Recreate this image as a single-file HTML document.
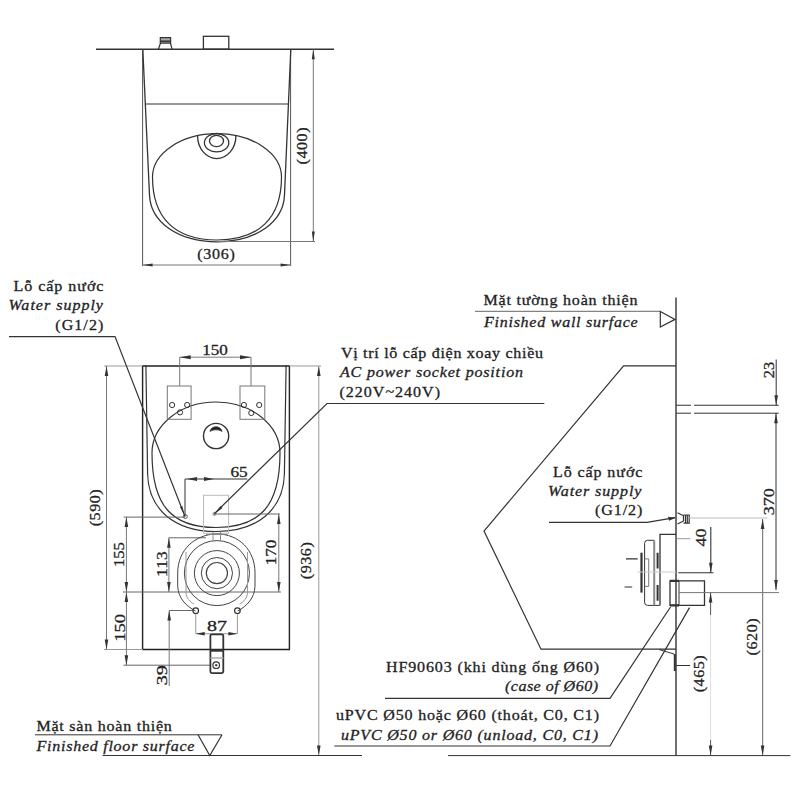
<!DOCTYPE html>
<html><head><meta charset="utf-8">
<style>
html,body{margin:0;padding:0;background:#fff;}
svg{display:block;}
text{font-family:"Liberation Serif",serif;fill:#222;stroke:#222;stroke-width:0.3;}
.it{font-style:italic;}
</style></head>
<body>
<svg width="800" height="800" viewBox="0 0 800 800">
<rect width="800" height="800" fill="#fff"/>
<g fill="none" stroke="#333" stroke-width="1" stroke-linecap="butt">
<!-- ===== TOP VIEW ===== -->
<path d="M96 49.3 H334" stroke-width="1.5"/>
<path d="M142.6 49.3 V266 M290.6 49.3 V266" stroke="#555"/>
<path d="M142.8 49.3 L149.5 195 C150.5 222 178 241.8 217 241.8 C256 241.8 283.5 222 284.5 195 L290.8 49.3" stroke-width="1.3"/>
<path d="M145 104 H288"/>
<path d="M152.5 177 A64.5 43.3 0 0 1 281.5 177 C281.5 218 259 240 217 240 C175 240 152.5 218 152.5 177 Z" stroke-width="1.2"/>
<path d="M197.6 136 A19.1 22.5 0 0 0 235.9 136" stroke-width="1.3"/>
<ellipse cx="216.6" cy="142.7" rx="12.2" ry="9.2" stroke-width="1.3"/>
<ellipse cx="216.5" cy="141" rx="7" ry="5.6" stroke-width="1.3"/>
<path d="M217 241.5 H315 M313.3 49.3 V241.5 M142.6 265 H290.6" stroke="#777"/>
<rect x="203.4" y="36.3" width="25.4" height="12.9" stroke-width="1.3"/>
<path d="M158.4 49.2 L160.5 43 H170.5 L172 49.2" stroke-width="1.2"/><path d="M160.3 43 V37.6 H170.6 V43 Z" fill="#aaa" stroke-width="1.2"/><path d="M160.3 41.2 H170.6" stroke-width="1.5"/>

<!-- ===== FRONT VIEW ===== -->
<path d="M142.6 366 V649.5 H289.4 V366 Z" stroke-width="1.4" stroke="#222"/>
<path d="M104 366 H142.7 M289.3 366 H321 M104 649.5 H142.8" stroke="#999"/>
<path d="M145.9 365 L147.6 473.8 C148.5 510 175 531.5 216 531.5 C257 531.5 283.5 510 284.4 473.8 L286.1 365" stroke-width="1.2"/>
<path d="M152 453 A64 51 0 0 1 280 453 C280 505 260.8 527.5 216 527.5 C171.2 527.5 152 505 152 453 Z" stroke-width="1.2"/>
<rect x="167.3" y="386" width="23.8" height="33.3" stroke="#777"/>
<rect x="240" y="386" width="24.8" height="33.3" stroke="#777"/>
<circle cx="172.1" cy="405" r="2.6"/><circle cx="187.2" cy="405" r="2.6"/><circle cx="180" cy="412.4" r="2.6"/>
<circle cx="243.9" cy="405" r="2.6"/><circle cx="259.2" cy="405" r="2.6"/><circle cx="251.3" cy="413" r="2.6"/>
<circle cx="216.1" cy="436" r="12.6" stroke-width="1.4"/>
<path d="M210 431.5 C211 425.2 221 425.2 222 431.5 C219 429.2 213 429.2 210 431.5 Z" fill="#222" stroke-width="0.8"/>
<!-- 150 dim -->
<path d="M179.7 357.2 H251 M179.7 357.2 V386 M251 357.2 V386" stroke="#777"/>
<!-- 65 dim -->
<path d="M185 479 H247.3 M185 479 V516.4"/>
<rect x="203.5" y="495.3" width="25.1" height="38" stroke="#bbb"/>
<circle cx="214.4" cy="514" r="2.2" stroke="none" fill="#bbb"/>
<circle cx="185.3" cy="516.5" r="2" stroke="#555"/>
<!-- ext lines -->
<path d="M123.7 517.1 H185 M214 514 H280 M123 592 H281 M168.8 537.8 H206 M169.2 610.5 H193 M123.5 665.2 H210" stroke="#666"/>
<!-- vertical dims -->
<path d="M106.5 366 V649.5 M126.4 517.1 V665.2 M168.9 537.8 V592 M278.8 514 V592 M169.2 610.5 V686" stroke="#777"/><path d="M318.8 366 V755.5" stroke="#999"/>
<!-- drain -->
<g stroke="#444" stroke-width="1">
<circle cx="216.9" cy="573.1" r="10.6" stroke-width="1.2"/>
<circle cx="216.9" cy="573.1" r="15.6"/>
<circle cx="216.9" cy="573.1" r="22.5"/>
<circle cx="216.9" cy="573.1" r="32.5"/>
<path d="M195.5 611 C186 606 178 598 177.7 586 L177.7 573 C177.7 550 195 534 216.9 534 C239 534 255 550 255 573 L255 586 C254.7 598 247 606 237.7 611"/>
<path d="M186 552 V592 C186 598 190 602 194 604 M247.5 552 V592 C247.5 598 243.5 602 239.5 604" stroke="#999"/>
<path d="M206 534.4 H227.5 M213 531.5 V540 M220.5 531.5 V540" stroke="#888"/>
</g>
<circle cx="195.75" cy="610.7" r="2.8" stroke-width="1.2"/><circle cx="237.4" cy="610.7" r="2.8" stroke-width="1.2"/>
<!-- 87 dim -->
<path d="M195.75 614 V633.75 M237.4 614 V633.75 M195.75 633.75 H237.4" stroke="#999"/>
<!-- pipe -->
<rect x="210.4" y="634.3" width="12.9" height="38.8" rx="1.5" stroke-width="1.8"/>
<path d="M210.4 650.6 H223.3" stroke-width="2.2"/><path d="M210.4 658 H223.3" stroke="#aaa" stroke-width="1.5"/>
<circle cx="216.2" cy="665.2" r="3.3" stroke-width="1.2"/><circle cx="216.2" cy="665.2" r="0.8" fill="#333"/>

<!-- leaders -->
<path d="M9 336.6 H115 L185 516.6" stroke-width="1.2"/>
<path d="M544.3 403.5 H327 L214 514" stroke-width="1.2"/>

<!-- floor -->
<path d="M35 734.8 H222 M102.5 755.5 H362"/>
<path d="M198 734.8 L209.8 755.5 L222 734.8" stroke-width="1.2"/>

<!-- ===== SIDE VIEW ===== -->
<path d="M676 297.6 V755.5" stroke-width="1.4"/>
<path d="M475 311.3 H660" stroke="#666"/>
<path d="M660.3 311.4 V327 L675 319.4 Z" stroke-width="1.2"/>
<path d="M676 365.9 H623.6 L484 531 L541 649.2 H676" stroke-width="1.2"/>
<path d="M676 405.25 H691 M694 405.25 H778.75 M676 413.2 H691 M694 413.2 H778.75 M776.2 359.5 V405.25 M776 413.2 V590"/>
<path d="M549 522.3 H647 L675 517.7" stroke-width="1.2"/>
<path d="M677.5 512.8 L683.5 515.8 V521 L677.5 524 M683.5 515 H689.2 V523.2 H683.5 M685.5 515 V523 M687.3 515 V523" stroke-width="1.2"/>
<path d="M689.2 518 H767.5" stroke="#bbb"/>
<path d="M762.7 519 V755.5" stroke="#666"/>
<path d="M660 605.4 V534.4 H676" stroke-width="1.3"/>
<path d="M654.2 540.3 H647.6 Q644.6 540.3 644.6 543.3 V602.4 Q644.6 605.4 647.6 605.4 H659.7"/>
<path d="M654.2 540.3 V605.4" stroke="#888" stroke-width="2"/>
<path d="M657.6 552.7 V568.5 M657.6 585 V600.8" stroke-width="2"/>
<path d="M641.5 552.7 V592.6" stroke-width="2.2"/>
<path d="M644.6 558.9 H648.7 V586.4 H644.6" stroke="#777"/>
<path d="M626 558.9 H637.7 M624.6 587 H632.2" stroke-width="1.2"/>
<path d="M637.7 572 H676" stroke="#ccc"/>
<path d="M676.8 538.7 H690.3" stroke="#999"/>
<path d="M678.3 572.75 H713.5 M710.8 527 V572.75" stroke-width="1.1"/>
<path d="M670 605.4 V580.9 H704.5 V605.4 Z" stroke-width="1.3"/>
<path d="M670 580.9 H679 M670 605.4 H679" stroke-width="2.4"/>
<path d="M679 580.9 V605.4"/>
<path d="M679 592.6 H779" stroke="#777"/>
<path d="M710.6 592.6 V615" stroke="#555"/><path d="M710.6 615 V740" stroke="#ddd"/><path d="M710.6 740 V755.5" stroke="#555"/><path d="M676 665.5 H690 M659 649.5 L674 654" stroke="#333"/><path d="M674.8 654 V671" stroke-width="2"/>
<path d="M670.5 607 L610 698.4 H385 M689.5 607.6 L610 746 H334.4" stroke-width="1.2"/>
<path d="M448 755.6 H790.4"/>
</g>

<!-- arrows -->
<g fill="#333" stroke="none">
<path d="M142.6 265 l10 -1.5 v3 Z M290.6 265 l-10 -1.5 v3 Z"/>
<path d="M313.3 49.3 l-1.5 10 h3 Z M313.3 241.5 l-1.5 -10 h3 Z"/>
<path d="M179.7 357.2 l11 -2 v4 Z M251 357.2 l-11 -2 v4 Z"/>
<path d="M187 479 l10 -2 v4 Z M214 479 l-10 -2 v4 Z"/>
<path d="M106.5 366 l-1.8 10 h3.6 Z M106.5 649.5 l-1.8 -10 h3.6 Z"/>
<path d="M318.8 366 l-1.8 10 h3.6 Z M318.8 755.5 l-1.8 -10 h3.6 Z"/>
<path d="M126.4 517.1 l-1.8 10 h3.6 Z M126.4 592 l-1.8 -10 h3.6 Z M126.4 592 l-1.8 10 h3.6 Z M126.4 665.2 l-1.8 -10 h3.6 Z"/>
<path d="M168.9 537.8 l-1.8 10 h3.6 Z M168.9 592 l-1.8 -10 h3.6 Z M169.2 610.5 l-1.8 10 h3.6 Z"/>
<path d="M278.8 514 l-1.8 10 h3.6 Z M278.8 592 l-1.8 -10 h3.6 Z"/>
<path d="M195.75 633.75 l9 -1.8 v3.6 Z M237.4 633.75 l-9 -1.8 v3.6 Z"/>
<path d="M776.2 405.25 l-1.8 -10 h3.6 Z M776 413.2 l-1.8 10 h3.6 Z M776 590 l-1.8 -10 h3.6 Z"/>
<path d="M762.6 519 l-1.8 10 h3.6 Z M762.6 755.5 l-1.8 -10 h3.6 Z"/>
<path d="M710.8 572.75 l-1.8 -10 h3.6 Z M710.6 592.6 l-1.8 10 h3.6 Z M710.6 755.5 l-1.8 -10 h3.6 Z M676 517.7 l-8 -1 l1 4 Z"/>
<path d="M214.4 514 L222.5 508 L220.5 506 Z M184.4 514.75 L182.3 505.9 L179.9 506.9 Z"/>
</g>

<!-- ===== TEXT ===== -->
<g font-size="15">
<text transform="translate(216 259) scale(1.07 1)" text-anchor="middle" textLength="35.05" lengthAdjust="spacing">(306)</text>
<text transform="translate(306.5 146) rotate(-90) scale(1.07 1)" text-anchor="middle" textLength="34.58" lengthAdjust="spacing">(400)</text>

<text transform="translate(13.5 291.4) scale(1.07 1)" textLength="84.11" lengthAdjust="spacing">Lỗ cấp nước</text>
<text transform="translate(8.5 310.4) scale(1.07 1)" class="it" textLength="88.32" lengthAdjust="spacing">Water supply</text>
<text transform="translate(55.3 330.1) scale(1.07 1)" textLength="44.86" lengthAdjust="spacing">(G1/2)</text>

<text transform="translate(215.1 354.7) scale(1.07 1)" text-anchor="middle" textLength="23.93" lengthAdjust="spacingAndGlyphs">150</text>
<text transform="translate(230.4 476.5) scale(1.07 1)" textLength="16.17" lengthAdjust="spacingAndGlyphs">65</text>
<text transform="translate(217 630.5) scale(1.07 1)" text-anchor="middle" textLength="18.69" lengthAdjust="spacingAndGlyphs">87</text>
<text transform="translate(124 554.6) rotate(-90) scale(1.07 1)" text-anchor="middle" textLength="23.36" lengthAdjust="spacingAndGlyphs">155</text>
<text transform="translate(124.5 627.9) rotate(-90) scale(1.07 1)" text-anchor="middle" textLength="26.07" lengthAdjust="spacingAndGlyphs">150</text>
<text transform="translate(167 564.1) rotate(-90) scale(1.07 1)" text-anchor="middle" textLength="24.02" lengthAdjust="spacingAndGlyphs">113</text>
<text transform="translate(276 552.5) rotate(-90) scale(1.07 1)" text-anchor="middle" textLength="24.02" lengthAdjust="spacingAndGlyphs">170</text>
<text transform="translate(166.5 675.3) rotate(-90) scale(1.07 1)" text-anchor="middle" textLength="18.69" lengthAdjust="spacingAndGlyphs">39</text>
<text transform="translate(100 507.8) rotate(-90) scale(1.07 1)" text-anchor="middle" textLength="34.58" lengthAdjust="spacing">(590)</text>
<text transform="translate(311 560.7) rotate(-90) scale(1.07 1)" text-anchor="middle" textLength="34.58" lengthAdjust="spacing">(936)</text>

<text transform="translate(341 358) scale(1.07 1)" textLength="188.79" lengthAdjust="spacing">Vị trí lỗ cấp điện xoay chiều</text>
<text transform="translate(340 377.3) scale(1.07 1)" class="it" textLength="171.03" lengthAdjust="spacing">AC power socket position</text>
<text transform="translate(339.5 397) scale(1.07 1)" textLength="93.93" lengthAdjust="spacing">(220V~240V)</text>

<text transform="translate(483.5 305.3) scale(1.07 1)" textLength="143.93" lengthAdjust="spacing">Mặt tường hoàn thiện</text>
<text transform="translate(484 326.6) scale(1.07 1)" class="it" textLength="143.55" lengthAdjust="spacing">Finished wall surface</text>

<text transform="translate(773.5 370) rotate(-90) scale(1.07 1)" text-anchor="middle" textLength="15.42" lengthAdjust="spacingAndGlyphs">23</text>
<text transform="translate(774 501.7) rotate(-90) scale(1.07 1)" text-anchor="middle" textLength="25.14" lengthAdjust="spacingAndGlyphs">370</text>
<text transform="translate(706 537.5) rotate(-90) scale(1.07 1)" text-anchor="middle" textLength="16.82" lengthAdjust="spacingAndGlyphs">40</text>
<text transform="translate(756.5 636.9) rotate(-90) scale(1.07 1)" text-anchor="middle" textLength="34.58" lengthAdjust="spacing">(620)</text>
<text transform="translate(704 673.8) rotate(-90) scale(1.07 1)" text-anchor="middle" textLength="34.58" lengthAdjust="spacing">(465)</text>

<text transform="translate(553 476.75) scale(1.07 1)" textLength="83.55" lengthAdjust="spacing">Lỗ cấp nước</text>
<text transform="translate(548 495.5) scale(1.07 1)" class="it" textLength="87.29" lengthAdjust="spacing">Water supply</text>
<text transform="translate(595 515) scale(1.07 1)" textLength="44.30" lengthAdjust="spacing">(G1/2)</text>

<text transform="translate(386 672) scale(1.07 1)" textLength="199.07" lengthAdjust="spacing">HF90603 (khi dùng ống Ø60)</text>
<text transform="translate(505 691.25) scale(1.07 1)" class="it" textLength="86.92" lengthAdjust="spacing">(case of Ø60)</text>
<text transform="translate(336 720) scale(1.07 1)" textLength="245.79" lengthAdjust="spacing">uPVC Ø50 hoặc Ø60 (thoát, C0, C1)</text>
<text transform="translate(341 739.6) scale(1.07 1)" class="it" textLength="240.19" lengthAdjust="spacing">uPVC Ø50 or Ø60 (unload, C0, C1)</text>

<text transform="translate(36.5 731.3) scale(1.07 1)" textLength="126.45" lengthAdjust="spacing">Mặt sàn hoàn thiện</text>
<text transform="translate(36.5 751) scale(1.07 1)" class="it" textLength="147.66" lengthAdjust="spacing">Finished floor surface</text>
</g>
</svg>
</body></html>
